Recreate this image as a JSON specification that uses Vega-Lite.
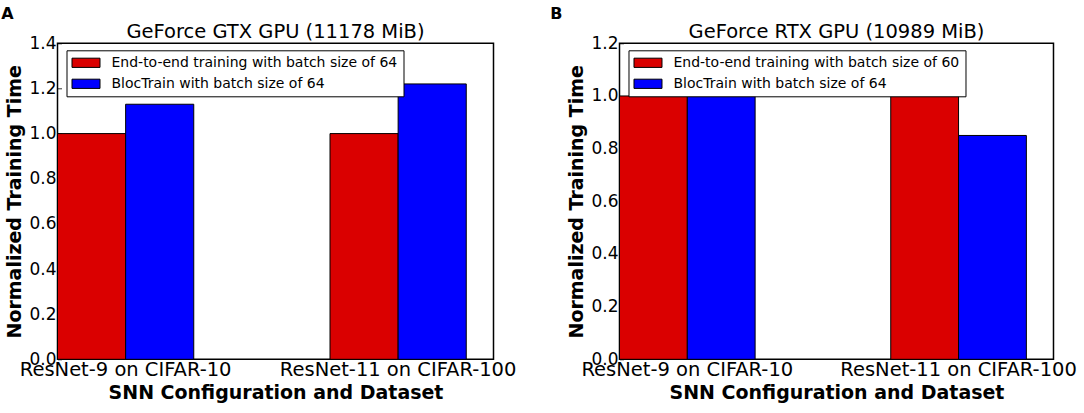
{
  "$schema": "https://vega.github.io/schema/vega-lite/v6.json",
  "padding": {"left": 0.5, "top": 5.3, "right": 0, "bottom": 0},
  "background": "white",
  "config": {
    "font": "DejaVu Sans",
    "view": {"stroke": "black", "strokeWidth": 1.5},
    "axis": {"domain": false, "grid": false, "labelColor": "black", "labelFont": "DejaVu Sans", "titleColor": "black", "titleFont": "DejaVu Sans", "titleFontWeight": "bold", "titleFontSize": 19, "tickColor": "black", "tickSize": -4, "tickWidth": 0.8, "labelLimit": 0},
    "axisX": {"labelFontSize": 19.5, "labelAngle": 0, "labelPadding": 5.5, "titlePadding": 4},
    "axisY": {"labelFontSize": 17, "labelPadding": 5.5, "titlePadding": 4},
    "title": {"font": "DejaVu Sans", "color": "black"},
    "legend": {"orient": "none", "legendX": 9, "legendY": 7, "title": null, "direction": "vertical", "strokeColor": "black", "fillColor": "white", "padding": 5, "cornerRadius": 0, "symbolType": "M-1,-0.66H3V0.66H-1Z", "symbolSize": 196, "symbolStrokeColor": "black", "symbolStrokeWidth": 1, "symbolOpacity": 1, "labelFontSize": 14, "labelFont": "DejaVu Sans", "labelColor": "black", "labelOffset": 25, "rowPadding": 6, "labelLimit": 0}
  },
  "data": {"values": [
    {"panel": "A", "config": "ResNet-9 on CIFAR-10", "series": "End-to-end training with batch size of 64", "value": 1.0},
    {"panel": "A", "config": "ResNet-9 on CIFAR-10", "series": "BlocTrain with batch size of 64", "value": 1.13},
    {"panel": "A", "config": "ResNet-11 on CIFAR-100", "series": "End-to-end training with batch size of 64", "value": 1.0},
    {"panel": "A", "config": "ResNet-11 on CIFAR-100", "series": "BlocTrain with batch size of 64", "value": 1.22},
    {"panel": "B", "config": "ResNet-9 on CIFAR-10", "series": "End-to-end training with batch size of 60", "value": 1.0},
    {"panel": "B", "config": "ResNet-9 on CIFAR-10", "series": "BlocTrain with batch size of 64", "value": 1.0},
    {"panel": "B", "config": "ResNet-11 on CIFAR-100", "series": "End-to-end training with batch size of 60", "value": 1.0},
    {"panel": "B", "config": "ResNet-11 on CIFAR-100", "series": "BlocTrain with batch size of 64", "value": 0.85}
  ]},
  "spacing": 32,
  "resolve": {"scale": {"color": "independent", "y": "independent", "x": "independent", "xOffset": "independent"}, "legend": {"color": "independent"}},
  "hconcat": [
    {
      "title": {"text": "A", "anchor": "start", "frame": "bounds", "fontSize": 16, "fontWeight": "bold", "dx": -4, "offset": -1},
      "vconcat": [{
        "width": 436, "height": 316,
        "title": {"text": "GeForce GTX GPU (11178 MiB)", "fontSize": 19.5, "fontWeight": "normal", "offset": -8},
        "transform": [{"filter": "datum.panel === 'A'"}],
        "mark": {"type": "bar", "stroke": "black", "strokeWidth": 1},
        "encoding": {
          "x": {"field": "config", "type": "nominal", "sort": null, "scale": {"paddingInner": 0.5, "paddingOuter": 0.05, "align": 0}, "axis": {"title": "SNN Configuration and Dataset"}},
          "xOffset": {"field": "series", "type": "nominal", "sort": null, "scale": {"paddingInner": 0, "paddingOuter": 0}},
          "y": {"field": "value", "type": "quantitative", "scale": {"domain": [0, 1.4], "nice": false}, "axis": {"title": "Normalized Training Time", "values": [0, 0.2, 0.4, 0.6, 0.8, 1.0, 1.2, 1.4], "format": ".1f"}},
          "color": {"field": "series", "type": "nominal", "sort": null, "scale": {"domain": ["End-to-end training with batch size of 64", "BlocTrain with batch size of 64"], "range": ["#da0000", "#0000ff"]}}
        }
      }]
    },
    {
      "title": {"text": "B", "anchor": "start", "frame": "bounds", "fontSize": 16, "fontWeight": "bold", "dx": -17, "offset": -1},
      "vconcat": [{
        "width": 434, "height": 316,
        "title": {"text": "GeForce RTX GPU (10989 MiB)", "fontSize": 19.5, "fontWeight": "normal", "offset": -8},
        "transform": [{"filter": "datum.panel === 'B'"}],
        "mark": {"type": "bar", "stroke": "black", "strokeWidth": 1},
        "encoding": {
          "x": {"field": "config", "type": "nominal", "sort": null, "scale": {"paddingInner": 0.5, "paddingOuter": 0.05, "align": 0}, "axis": {"title": "SNN Configuration and Dataset"}},
          "xOffset": {"field": "series", "type": "nominal", "sort": null, "scale": {"paddingInner": 0, "paddingOuter": 0}},
          "y": {"field": "value", "type": "quantitative", "scale": {"domain": [0, 1.2], "nice": false}, "axis": {"title": "Normalized Training Time", "values": [0, 0.2, 0.4, 0.6, 0.8, 1.0, 1.2], "format": ".1f"}},
          "color": {"field": "series", "type": "nominal", "sort": null, "scale": {"domain": ["End-to-end training with batch size of 60", "BlocTrain with batch size of 64"], "range": ["#da0000", "#0000ff"]}}
        }
      }]
    }
  ]
}
